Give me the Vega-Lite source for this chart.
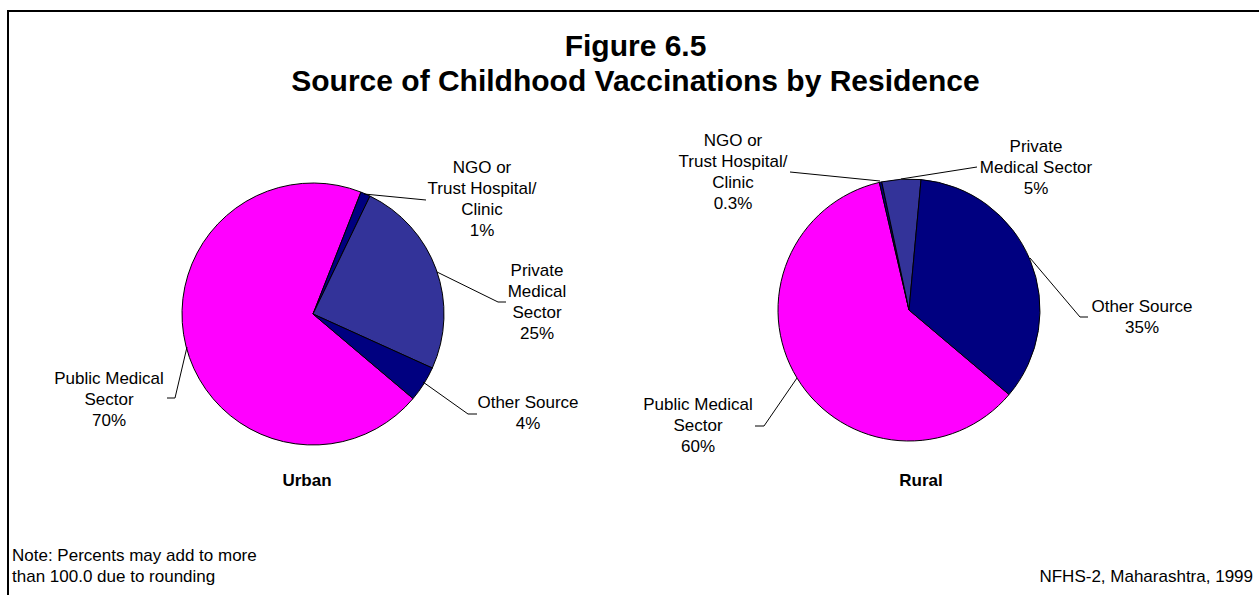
{
  "$schema": "https://vega.github.io/schema/vega-lite/v6.json",
  "width": 1251,
  "height": 584,
  "autosize": "none",
  "padding": {"left": 8, "top": 11, "right": 1, "bottom": 1},
  "background": "white",
  "config": {
    "view": {"stroke": null},
    "text": {"font": "Liberation Sans", "fontSize": 17, "lineHeight": 21, "lineBreak": "\n", "color": "black"}
  },
  "title": {
    "text": ["Figure 6.5", "Source of Childhood Vaccinations by Residence"],
    "font": "Liberation Sans", "fontSize": 30, "fontWeight": "bold", "lineHeight": 35,
    "anchor": "middle", "frame": "group", "offset": -88, "dx": 2, "color": "black"
  },
  "data": {
    "values": [
      {"residence": "Urban", "source": "Public Medical Sector", "order": 1, "value": 69.8, "label": "Public Medical\nSector\n70%"},
      {"residence": "Urban", "source": "NGO or Trust Hospital/Clinic", "order": 2, "value": 1.2, "label": "NGO or\nTrust Hospital/\nClinic\n1%"},
      {"residence": "Urban", "source": "Private Medical Sector", "order": 3, "value": 24.6, "label": "Private\nMedical\nSector\n25%"},
      {"residence": "Urban", "source": "Other Source", "order": 4, "value": 4.4, "label": "Other Source\n4%"},
      {"residence": "Rural", "source": "Public Medical Sector", "order": 1, "value": 60.2, "label": "Public Medical\nSector\n60%"},
      {"residence": "Rural", "source": "NGO or Trust Hospital/Clinic", "order": 2, "value": 0.3, "label": "NGO or\nTrust Hospital/\nClinic\n0.3%"},
      {"residence": "Rural", "source": "Private Medical Sector", "order": 3, "value": 4.8, "label": "Private\nMedical Sector\n5%"},
      {"residence": "Rural", "source": "Other Source", "order": 4, "value": 34.7, "label": "Other Source\n35%"}
    ]
  },
  "transform": [
    {"stack": "value", "groupby": ["residence"], "sort": [{"field": "order", "order": "ascending"}], "as": ["v0", "v1"]}
  ],
  "encoding": {
    "x": {"field": "residence", "type": "nominal", "scale": {"type": "point", "domain": ["Urban", "Rural"], "range": [305, 901], "padding": 0}, "axis": null},
    "y": {"field": "residence", "type": "nominal", "scale": {"type": "point", "domain": ["Urban", "Rural"], "range": [303, 299], "padding": 0}, "axis": null}
  },
  "layer": [
    {"transform": [{"filter": "datum.residence == 'Urban' && datum.order == 1"}], "mark": {"type": "rule", "color": "black", "strokeWidth": 2}, "encoding": {"x": {"value": 0}, "x2": {"value": "width"}, "y": {"value": 0}}},
    {"transform": [{"filter": "datum.residence == 'Urban' && datum.order == 1"}], "mark": {"type": "rule", "color": "black", "strokeWidth": 2}, "encoding": {"x": {"value": 0}, "y": {"value": -1}, "y2": {"value": "height"}}},
    {
      "mark": {"type": "arc", "outerRadius": 131, "stroke": "black", "strokeWidth": 1},
      "encoding": {
        "theta": {"field": "v0", "type": "quantitative", "scale": {"domain": [0, 100], "range": [2.2724, 8.5556]}},
        "theta2": {"field": "v1"},
        "color": {"field": "source", "type": "nominal", "legend": null,
          "scale": {"domain": ["Public Medical Sector", "NGO or Trust Hospital/Clinic", "Private Medical Sector", "Other Source"],
                    "range": ["#FF00FF", "#000080", "#333399", "#000080"]}}
      }
    },
    {"transform": [{"filter": "datum.residence == 'Urban' && datum.order == 2"}], "mark": {"type": "rule", "color": "black", "strokeWidth": 1, "xOffset": 51, "yOffset": -120, "x2Offset": 113, "y2Offset": -114}, "encoding": {"x2": {"field": "residence"}, "y2": {"field": "residence"}}},
    {"transform": [{"filter": "datum.residence == 'Urban' && datum.order == 3"}], "mark": {"type": "rule", "color": "black", "strokeWidth": 1, "xOffset": 124, "yOffset": -42, "x2Offset": 185, "y2Offset": -12}, "encoding": {"x2": {"field": "residence"}, "y2": {"field": "residence"}}},
    {"transform": [{"filter": "datum.residence == 'Urban' && datum.order == 3"}], "mark": {"type": "rule", "color": "black", "strokeWidth": 1, "xOffset": 185, "yOffset": -12, "x2Offset": 193, "y2Offset": -12}, "encoding": {"x2": {"field": "residence"}, "y2": {"field": "residence"}}},
    {"transform": [{"filter": "datum.residence == 'Urban' && datum.order == 4"}], "mark": {"type": "rule", "color": "black", "strokeWidth": 1, "xOffset": 110, "yOffset": 68, "x2Offset": 155, "y2Offset": 100}, "encoding": {"x2": {"field": "residence"}, "y2": {"field": "residence"}}},
    {"transform": [{"filter": "datum.residence == 'Urban' && datum.order == 4"}], "mark": {"type": "rule", "color": "black", "strokeWidth": 1, "xOffset": 155, "yOffset": 100, "x2Offset": 164, "y2Offset": 100}, "encoding": {"x2": {"field": "residence"}, "y2": {"field": "residence"}}},
    {"transform": [{"filter": "datum.residence == 'Urban' && datum.order == 1"}], "mark": {"type": "rule", "color": "black", "strokeWidth": 1, "xOffset": -126, "yOffset": 33, "x2Offset": -138, "y2Offset": 84}, "encoding": {"x2": {"field": "residence"}, "y2": {"field": "residence"}}},
    {"transform": [{"filter": "datum.residence == 'Urban' && datum.order == 1"}], "mark": {"type": "rule", "color": "black", "strokeWidth": 1, "xOffset": -138, "yOffset": 84, "x2Offset": -146, "y2Offset": 84}, "encoding": {"x2": {"field": "residence"}, "y2": {"field": "residence"}}},
    {"transform": [{"filter": "datum.residence == 'Rural' && datum.order == 2"}], "mark": {"type": "rule", "color": "black", "strokeWidth": 1, "xOffset": -29, "yOffset": -129, "x2Offset": -119, "y2Offset": -138}, "encoding": {"x2": {"field": "residence"}, "y2": {"field": "residence"}}},
    {"transform": [{"filter": "datum.residence == 'Rural' && datum.order == 3"}], "mark": {"type": "rule", "color": "black", "strokeWidth": 1, "xOffset": -8, "yOffset": -131, "x2Offset": 68, "y2Offset": -143}, "encoding": {"x2": {"field": "residence"}, "y2": {"field": "residence"}}},
    {"transform": [{"filter": "datum.residence == 'Rural' && datum.order == 4"}], "mark": {"type": "rule", "color": "black", "strokeWidth": 1, "xOffset": 121, "yOffset": -52, "x2Offset": 171, "y2Offset": 7}, "encoding": {"x2": {"field": "residence"}, "y2": {"field": "residence"}}},
    {"transform": [{"filter": "datum.residence == 'Rural' && datum.order == 4"}], "mark": {"type": "rule", "color": "black", "strokeWidth": 1, "xOffset": 171, "yOffset": 7, "x2Offset": 179, "y2Offset": 7}, "encoding": {"x2": {"field": "residence"}, "y2": {"field": "residence"}}},
    {"transform": [{"filter": "datum.residence == 'Rural' && datum.order == 1"}], "mark": {"type": "rule", "color": "black", "strokeWidth": 1, "xOffset": -112, "yOffset": 68, "x2Offset": -145, "y2Offset": 116}, "encoding": {"x2": {"field": "residence"}, "y2": {"field": "residence"}}},
    {"transform": [{"filter": "datum.residence == 'Rural' && datum.order == 1"}], "mark": {"type": "rule", "color": "black", "strokeWidth": 1, "xOffset": -145, "yOffset": 116, "x2Offset": -154, "y2Offset": 116}, "encoding": {"x2": {"field": "residence"}, "y2": {"field": "residence"}}},
    {"transform": [{"filter": "datum.residence == 'Urban' && datum.order == 2"}], "mark": {"type": "text", "align": "center", "baseline": "middle", "dx": 169, "dy": -146}, "encoding": {"text": {"field": "label"}}},
    {"transform": [{"filter": "datum.residence == 'Urban' && datum.order == 3"}], "mark": {"type": "text", "align": "center", "baseline": "middle", "dx": 224, "dy": -43.5}, "encoding": {"text": {"field": "label"}}},
    {"transform": [{"filter": "datum.residence == 'Urban' && datum.order == 4"}], "mark": {"type": "text", "align": "center", "baseline": "middle", "dx": 215, "dy": 88.8}, "encoding": {"text": {"field": "label"}}},
    {"transform": [{"filter": "datum.residence == 'Urban' && datum.order == 1"}], "mark": {"type": "text", "align": "center", "baseline": "middle", "dx": -204, "dy": 65.3}, "encoding": {"text": {"field": "label"}}},
    {"transform": [{"filter": "datum.residence == 'Rural' && datum.order == 2"}], "mark": {"type": "text", "align": "center", "baseline": "middle", "dx": -176, "dy": -169.3}, "encoding": {"text": {"field": "label"}}},
    {"transform": [{"filter": "datum.residence == 'Rural' && datum.order == 3"}], "mark": {"type": "text", "align": "center", "baseline": "middle", "dx": 127, "dy": -163}, "encoding": {"text": {"field": "label"}}},
    {"transform": [{"filter": "datum.residence == 'Rural' && datum.order == 4"}], "mark": {"type": "text", "align": "center", "baseline": "middle", "dx": 233, "dy": -3.3}, "encoding": {"text": {"field": "label"}}},
    {"transform": [{"filter": "datum.residence == 'Rural' && datum.order == 1"}], "mark": {"type": "text", "align": "center", "baseline": "middle", "dx": -211, "dy": 95.3}, "encoding": {"text": {"field": "label"}}},
    {"transform": [{"filter": "datum.residence == 'Urban' && datum.order == 1"}], "mark": {"type": "text", "align": "center", "baseline": "middle", "fontWeight": "bold", "dx": -6, "dy": 167}, "encoding": {"text": {"field": "residence"}}},
    {"transform": [{"filter": "datum.residence == 'Rural' && datum.order == 1"}], "mark": {"type": "text", "align": "center", "baseline": "middle", "fontWeight": "bold", "dx": 12, "dy": 171}, "encoding": {"text": {"field": "residence"}}},
    {"transform": [{"filter": "datum.residence == 'Urban' && datum.order == 1"}], "mark": {"type": "text", "align": "left", "baseline": "middle", "dx": 4, "dy": -39}, "encoding": {"x": {"value": 0}, "y": {"value": "height"}, "text": {"value": ["Note: Percents may add to more", "than 100.0 due to rounding"]}}},
    {"transform": [{"filter": "datum.residence == 'Urban' && datum.order == 1"}], "mark": {"type": "text", "align": "right", "baseline": "middle", "dx": -6, "dy": -18}, "encoding": {"x": {"value": "width"}, "y": {"value": "height"}, "text": {"value": "NFHS-2, Maharashtra, 1999"}}}
  ]
}
